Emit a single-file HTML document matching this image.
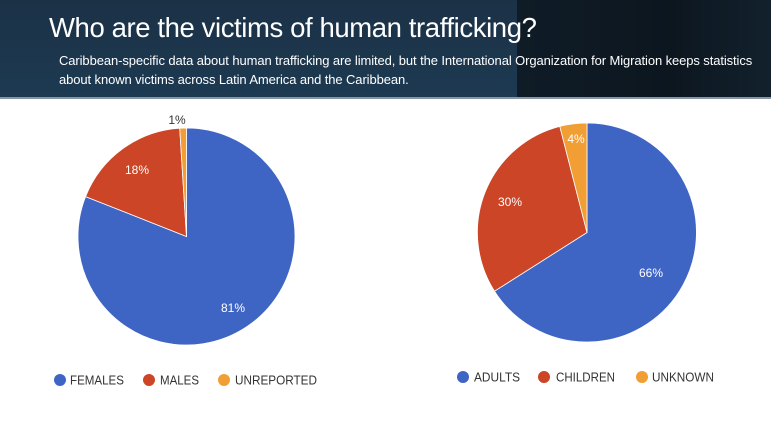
<!DOCTYPE html>
<html><head><meta charset="utf-8"><style>
html,body{margin:0;padding:0;width:771px;height:432px;overflow:hidden;background:#fff;font-family:"Liberation Sans",sans-serif;}
.hdr{position:absolute;left:0;top:0;width:771px;height:99px;background:linear-gradient(180deg,#1b3146 0%,#1d3a52 100%);}
.hdr .dk{position:absolute;left:517px;top:0;width:254px;height:99px;background:linear-gradient(90deg,#0f1c27,#0c161f 60%,#12212d);}
.hdr .ln{position:absolute;left:0;top:97px;width:771px;height:2px;background:#8796a6;}
h1{position:absolute;left:49px;top:12px;margin:0;color:#fff;font-weight:normal;font-size:27.5px;letter-spacing:-0.4px;white-space:nowrap;}
.sub{position:absolute;left:59px;top:51px;color:#fff;font-size:13px;line-height:19px;white-space:nowrap;letter-spacing:-0.1px;}
svg{position:absolute;left:0;top:0;}
</style></head><body>
<div class="hdr"><div class="dk"></div><div class="ln"></div></div>
<h1>Who are the victims of human trafficking?</h1>
<div class="sub">Caribbean-specific data about human trafficking are limited, but the International Organization for Migration keeps statistics<br>about known victims across Latin America and the Caribbean.</div>
<svg width="771" height="432" viewBox="0 0 771 432">
<g stroke="#fff" stroke-width="0.8">
<path d="M186.5,236.5 L186.5,128 A108.5,108.5 0 1 1 85.6,196.6 Z" fill="#3f65c4"/>
<path d="M186.5,236.5 L85.6,196.6 A108.5,108.5 0 0 1 179.7,128.2 Z" fill="#cb4526"/>
<path d="M186.5,236.5 L179.7,128.2 A108.5,108.5 0 0 1 186.5,128 Z" fill="#f19f35"/>
<path d="M587,232.5 L587,123 A109.5,109.5 0 1 1 494.5,291.2 Z" fill="#3f65c4"/>
<path d="M587,232.5 L494.5,291.2 A109.5,109.5 0 0 1 559.8,126.4 Z" fill="#cb4526"/>
<path d="M587,232.5 L559.8,126.4 A109.5,109.5 0 0 1 587,123 Z" fill="#f19f35"/>
</g>
<g font-family="Liberation Sans,sans-serif" font-size="12" fill="#fff" text-anchor="middle">
<text x="233" y="312">81%</text>
<text x="137" y="174">18%</text>
<text x="177" y="124" fill="#333">1%</text>
<text x="510" y="206">30%</text>
<text x="576" y="143">4%</text>
<text x="651" y="277">66%</text>
</g>
<g font-family="Liberation Sans,sans-serif" font-size="12.5" fill="#333">
<circle cx="60" cy="380" r="6" fill="#3f65c4"/><text x="70" y="384.5" textLength="54" lengthAdjust="spacingAndGlyphs">FEMALES</text>
<circle cx="149" cy="380" r="6" fill="#cb4526"/><text x="160" y="384.5" textLength="39" lengthAdjust="spacingAndGlyphs">MALES</text>
<circle cx="224" cy="380" r="6" fill="#f19f35"/><text x="235" y="384.5" textLength="82" lengthAdjust="spacingAndGlyphs">UNREPORTED</text>
<circle cx="463" cy="377" r="6" fill="#3f65c4"/><text x="474" y="381.5" textLength="46" lengthAdjust="spacingAndGlyphs">ADULTS</text>
<circle cx="544" cy="377" r="6" fill="#cb4526"/><text x="556" y="381.5" textLength="59" lengthAdjust="spacingAndGlyphs">CHILDREN</text>
<circle cx="642" cy="377" r="6" fill="#f19f35"/><text x="652" y="381.5" textLength="62" lengthAdjust="spacingAndGlyphs">UNKNOWN</text>
</g>
</svg>
</body></html>
